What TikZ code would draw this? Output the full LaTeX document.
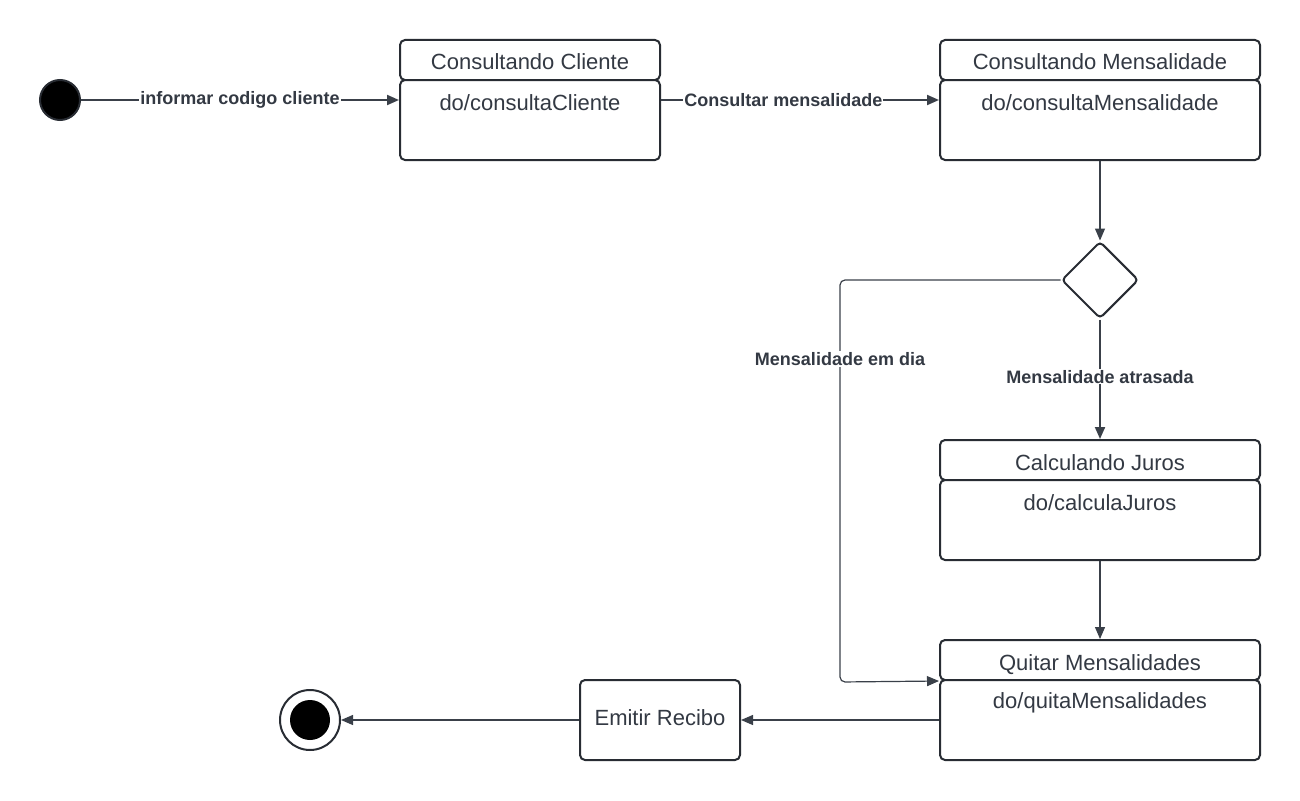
\documentclass[tikz,border=0pt]{standalone}
\usepackage{fontspec}
\setmainfont{Liberation Sans}
\usetikzlibrary{arrows.meta,shapes.geometric}
\definecolor{edge}{HTML}{282C33}
\definecolor{wire}{HTML}{3A4049}
\definecolor{ink}{HTML}{333943}
\tikzset{
  statefont/.style={font=\fontsize{22}{26}\selectfont, text=ink},
  head/.style={draw=edge, line width=2pt, rounded corners=5pt, fill=white,
    minimum width=260pt, minimum height=40pt, inner sep=0pt, statefont,
    text height=20pt, text depth=0pt},
  body/.style={draw=edge, line width=2pt, rounded corners=5pt, fill=white,
    minimum width=260pt, minimum height=80pt, inner sep=0pt, statefont,
    text height=19pt, text depth=0pt},
  tip/.style={-{Triangle[length=12pt,width=10pt]}},
  heavy/.style={draw=wire, line width=2pt, tip},
  light/.style={draw=wire, line width=1.2pt, tip},
  guard/.style={fill=white, inner sep=1pt, text=ink,
    font=\bfseries\fontsize{18}{21}\selectfont},
}
\begin{document}
\begin{tikzpicture}[x=1pt,y=-1pt]
\useasboundingbox (0,0) rectangle (1300,800);

% initial pseudo-state
\node[circle, fill=black, draw=edge, line width=2pt, minimum size=40pt, inner sep=0pt] (start) at (60,100) {};

% Consultando Cliente
\node[head] (cchead) at (530,60) {Consultando Cliente};
\node[body] (ccbody) at (530,120) {};
\node[statefont] (cctext) at (530,102.5) {do/consultaCliente};

% Consultando Mensalidade
\node[head, minimum width=320pt] (cmhead) at (1100,60) {Consultando Mensalidade};
\node[body, minimum width=320pt] (cmbody) at (1100,120) {};
\node[statefont] (cmtext) at (1100,102.5) {do/consultaMensalidade};

% decision
\node[diamond, draw=edge, line width=2pt, rounded corners=4pt, minimum width=77pt, minimum height=77pt, inner sep=0pt, fill=white] (dec) at (1100,280) {};

% Calculando Juros
\node[head, minimum width=320pt] (cjhead) at (1100,460) {Calculando Juros};
\node[body, minimum width=320pt] (cjbody) at (1100,520) {};
\node[statefont] (cjtext) at (1100,502.5) {do/calculaJuros};

% Quitar Mensalidades
\node[head, minimum width=320pt] (qmhead) at (1100,660) {Quitar Mensalidades};
\node[body, minimum width=320pt] (qmbody) at (1100,720) {};
\node[statefont] (qmtext) at (1100,702.5) {do/quitaMensalidades};

% Emitir Recibo
\node[body, minimum width=160pt, text height=11pt] (er) at (660,720) {Emitir Recibo};

% final pseudo-state
\node[circle, draw=edge, line width=2pt, fill=white, minimum size=60pt, inner sep=0pt] (final) at (310,720) {};
\node[circle, fill=black, minimum size=40pt, inner sep=0pt] (finalcore) at (310,720) {};

% transitions
\draw[heavy] (start) -- node[guard, pos=0.5] {informar codigo cliente} (ccbody.west |- start);
\draw[heavy] (ccbody.east |- start) -- node[guard, pos=0.44] {Consultar mensalidade} (cmbody.west |- start);
\draw[light] (cmbody.south) -- (dec.north);
\draw[heavy] (dec.south) -- node[guard, pos=0.48] {Mensalidade atrasada} (cjhead.north);
\draw[light, rounded corners=5pt] (dec.west) -- (840,280) -- (840,682)
  -- ([yshift=-2pt]qmbody.north west);
\node[guard] (emdia) at (840,359) {Mensalidade em dia};
\draw[light] (cjbody.south) -- (qmhead.north);
\draw[light] (qmbody.west) -- (er.east);
\draw[light] (er.west) -- (final.east);
\end{tikzpicture}
\end{document}
